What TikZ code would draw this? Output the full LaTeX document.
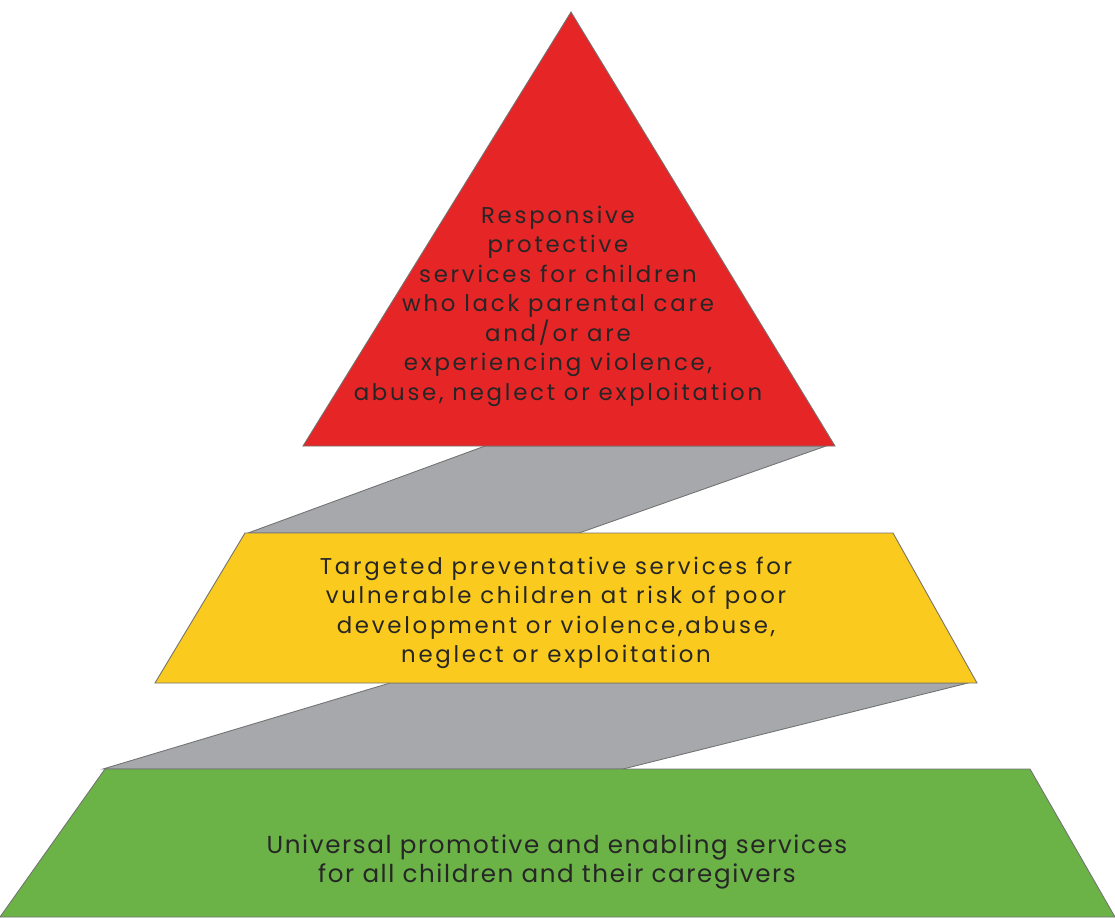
\documentclass[tikz,border=0pt]{standalone}
\usepackage{fontspec}
\usepackage{tikz}
\usetikzlibrary{positioning}
\newfontfamily\tierfont{Poppins}[LetterSpace=12]
\newfontfamily\basefont{Poppins}[LetterSpace=6.5]
\definecolor{tierred}{RGB}{230,37,38}
\definecolor{tieryellow}{RGB}{251,202,30}
\definecolor{tiergreen}{RGB}{107,179,71}
\definecolor{tiergray}{RGB}{166,168,171}
\begin{document}
\begin{tikzpicture}
	[   x=0.2mm,y=-0.2mm,
		tier/.style={draw=black!55,line width=0.5pt,fill=#1},
		tier text/.style={align=center,text=black!85,font=\tierfont\fontsize{13}{16.8}\selectfont},
	]
	\useasboundingbox (0,0) rectangle (1115,917);
	% gray links between the levels
	\path[tier=tiergray] (485,446) -- (826,446) -- (579,533) -- (248,533) -- cycle;
	\path[tier=tiergray] (390,683) -- (968,683) -- (623,769) -- (103,769) -- cycle;
	
	% the three levels
	\path[tier=tierred] (571,12) coordinate (top) -- (835,446) coordinate (r-right) -- (303,446) coordinate (r-left) -- cycle;
	\path[tier=tieryellow] (245,533) -- (893,533) -- (977,683) -- (155,683) -- cycle;
	\path[tier=tiergreen] (105,769) -- (1030,769) -- (1115,917) -- (0,917) -- cycle;
	
	\node[tier text] (respond) at (558,306) {Responsive\\protective\\services for children\\who lack parental care\\and/or are\\experiencing violence,\\abuse, neglect or exploitation};
	\node[tier text] (target) at (556,613) {Targeted preventative services for\\vulnerable children at risk of poor\\development or violence,abuse,\\neglect or exploitation};
	\node[tier text,font=\basefont\fontsize{14}{16.8}\selectfont] (universal) at (557,862) {Universal promotive and enabling services\\for all children and their caregivers};
\end{tikzpicture}
\end{document}
